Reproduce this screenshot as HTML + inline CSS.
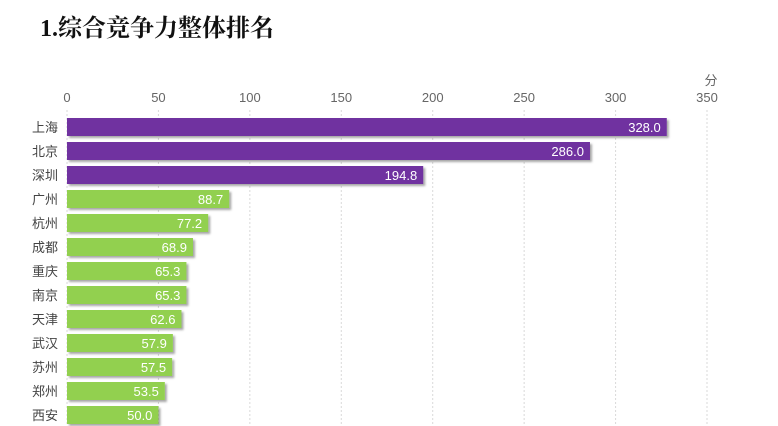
<!DOCTYPE html>
<html><head><meta charset="utf-8"><style>
body{margin:0;background:#fff;}
svg{display:block;font-family:"Liberation Sans","Noto Sans CJK SC",sans-serif;}
</style></head><body>
<svg id="c" width="778" height="426">
<defs><filter id="sh" x="-5%" y="-20%" width="110%" height="160%"><feDropShadow dx="2" dy="2" stdDeviation="1" flood-color="#000" flood-opacity="0.35"/></filter></defs>
<text x="40" y="36" font-family="'Liberation Serif','Noto Serif CJK SC',serif" font-size="24" font-weight="bold" fill="#111">1.综合竞争力整体排名</text>
<text x="711" y="85" font-size="13" fill="#666" text-anchor="middle">分</text>
</svg>
<script>
const categories=["上海","北京","深圳","广州","杭州","成都","重庆","南京","天津","武汉","苏州","郑州","西安"];
const values=[328.0,286.0,194.8,88.7,77.2,68.9,65.3,65.3,62.6,57.9,57.5,53.5,50.0];
const ticks=[0,50,100,150,200,250,300,350];
const svg=document.getElementById('c');
const NS='http://www.w3.org/2000/svg';
const x0=67,x1=707,maxV=350,y0=118,pitch=24,bh=18;
const xs=v=>x0+(v/maxV)*(x1-x0);
function mk(t,a){const e=document.createElementNS(NS,t);for(const k in a)e.setAttribute(k,a[k]);svg.appendChild(e);return e;}
ticks.forEach(t=>{
  const g=mk('line',{x1:xs(t),x2:xs(t),y1:110,y2:426,stroke:'#d9d9d9','stroke-dasharray':'2,2'});
  
  
  const l=mk('text',{x:xs(t),y:102,'font-size':13,fill:'#666','text-anchor':'middle'});
  l.textContent=t;
  
  
});
categories.forEach((c,i)=>{
  const y=y0+i*pitch;
  const r=mk('rect',{x:x0,y:y,width:xs(values[i])-x0,height:bh,fill:i<3?'#7030A0':'#92D050',filter:'url(#sh)'});
  
  
  const cl=mk('text',{x:58,y:y+14,'font-size':13,fill:'#444','text-anchor':'end'});
  cl.textContent=c;
  
  
  const vl=mk('text',{x:xs(values[i])-6,y:y+14,'font-size':13,fill:'#fff','text-anchor':'end'});
  vl.textContent=values[i].toFixed(1);
  
  
});
</script>
</body></html>
